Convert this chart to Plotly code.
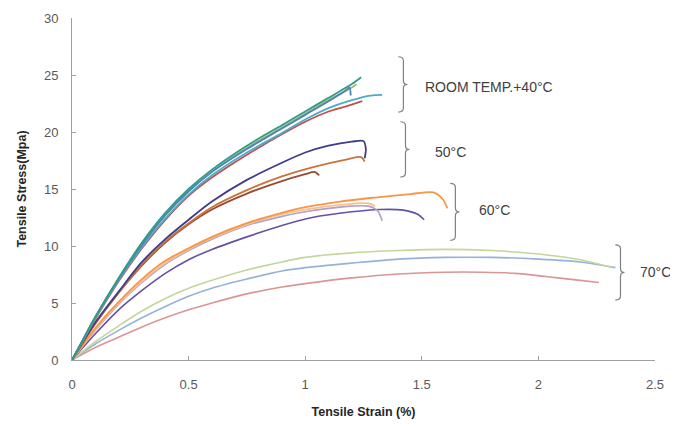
import plotly.graph_objects as go

# ---------------- data ----------------
# Room temp. + 40°C group
rt_teal_dark_x = [0, 0.05, 0.1, 0.2, 0.3, 0.4, 0.5, 0.6, 0.75, 0.9, 1.0, 1.1, 1.2, 1.24]
rt_teal_dark_y = [0, 1.9, 3.8, 7.2, 10.3, 12.9, 15.0, 16.7, 18.8, 20.6, 21.8, 23.0, 24.2, 24.8]
rt_green_x = [0, 0.05, 0.1, 0.2, 0.3, 0.4, 0.5, 0.6, 0.75, 0.9, 1.0, 1.1, 1.2, 1.22]
rt_green_y = [0, 1.85, 3.7, 7.1, 10.1, 12.7, 14.8, 16.5, 18.6, 20.4, 21.6, 22.8, 23.9, 24.2]
rt_blue_x = [0, 0.05, 0.1, 0.2, 0.3, 0.4, 0.5, 0.6, 0.75, 0.9, 1.0, 1.1, 1.17, 1.19, 1.195]
rt_blue_y = [0, 1.9, 3.75, 7.1, 10.1, 12.7, 14.8, 16.5, 18.5, 20.3, 21.5, 22.7, 23.6, 23.9, 23.2]
rt_cyan_x = [0, 0.05, 0.1, 0.2, 0.3, 0.4, 0.5, 0.6, 0.75, 0.9, 1.0, 1.1, 1.2, 1.28, 1.33]
rt_cyan_y = [0, 1.85, 3.7, 7.0, 9.9, 12.4, 14.5, 16.2, 18.2, 19.9, 21.1, 22.1, 22.8, 23.2, 23.25]
rt_red_x = [0, 0.05, 0.1, 0.2, 0.3, 0.4, 0.5, 0.6, 0.75, 0.9, 1.0, 1.1, 1.2, 1.245]
rt_red_y = [0, 1.8, 3.6, 6.9, 9.8, 12.3, 14.4, 16.0, 18.0, 19.8, 20.9, 21.8, 22.4, 22.7]

# 50°C group
c50_navy_x = [0, 0.05, 0.1, 0.2, 0.3, 0.4, 0.5, 0.6, 0.75, 0.9, 1.0, 1.1, 1.2, 1.25, 1.26, 1.255]
c50_navy_y = [0, 1.7, 3.3, 6.0, 8.6, 10.6, 12.3, 13.9, 15.8, 17.3, 18.2, 18.8, 19.15, 19.2, 18.5, 17.7]
c50_brown_x = [0, 0.05, 0.1, 0.2, 0.3, 0.4, 0.5, 0.6, 0.75, 0.9, 1.03, 1.18, 1.24, 1.255]
c50_brown_y = [0, 1.65, 3.2, 5.9, 8.4, 10.4, 12.0, 13.4, 14.9, 16.1, 16.9, 17.6, 17.8, 17.4]
c50_dark_x = [0, 0.05, 0.1, 0.2, 0.3, 0.4, 0.5, 0.6, 0.75, 0.9, 1.0, 1.04, 1.06]
c50_dark_y = [0, 1.65, 3.2, 5.9, 8.3, 10.3, 11.9, 13.2, 14.6, 15.7, 16.3, 16.5, 16.2]

# 60°C group
c60_orange_x = [0, 0.1, 0.2, 0.3, 0.4, 0.5, 0.6, 0.75, 0.9, 1.0, 1.15, 1.3, 1.45, 1.55, 1.59, 1.61]
c60_orange_y = [0, 2.8, 5.1, 7.1, 8.7, 9.8, 10.8, 12.0, 12.9, 13.4, 13.9, 14.25, 14.55, 14.7, 14.1, 13.3]
c60_peach_x = [0, 0.1, 0.2, 0.3, 0.4, 0.5, 0.6, 0.75, 0.9, 1.0, 1.15, 1.27, 1.3]
c60_peach_y = [0, 2.7, 5.0, 6.9, 8.5, 9.7, 10.7, 11.9, 12.8, 13.2, 13.6, 13.75, 13.5]
c60_lav_x = [0, 0.1, 0.2, 0.3, 0.4, 0.5, 0.6, 0.75, 0.9, 1.0, 1.1, 1.2, 1.27, 1.31, 1.33]
c60_lav_y = [0, 2.6, 4.9, 6.8, 8.4, 9.6, 10.6, 11.8, 12.6, 13.0, 13.3, 13.5, 13.5, 13.1, 12.2]
c60_purple_x = [0, 0.1, 0.2, 0.3, 0.4, 0.5, 0.6, 0.75, 0.9, 1.03, 1.2, 1.32, 1.42, 1.48, 1.51]
c60_purple_y = [0, 2.3, 4.4, 6.1, 7.6, 8.8, 9.7, 10.8, 11.8, 12.5, 13.0, 13.2, 13.15, 12.8, 12.3]

# 70°C group
c70_green_x = [0, 0.1, 0.2, 0.3, 0.4, 0.5, 0.6, 0.75, 0.9, 1.0, 1.2, 1.4, 1.6, 1.8, 2.0, 2.18, 2.32]
c70_green_y = [0, 1.6, 3.0, 4.3, 5.4, 6.3, 7.0, 7.9, 8.6, 9.0, 9.4, 9.6, 9.7, 9.6, 9.3, 8.8, 8.1]
c70_blue_x = [0, 0.1, 0.2, 0.3, 0.4, 0.5, 0.6, 0.75, 0.9, 1.0, 1.2, 1.4, 1.6, 1.8, 2.0, 2.18, 2.33]
c70_blue_y = [0, 1.4, 2.6, 3.7, 4.7, 5.6, 6.3, 7.1, 7.8, 8.1, 8.5, 8.85, 9.0, 9.0, 8.85, 8.6, 8.1]
c70_pink_x = [0, 0.1, 0.2, 0.3, 0.4, 0.5, 0.6, 0.75, 0.9, 1.0, 1.2, 1.4, 1.6, 1.76, 1.9, 2.04, 2.15, 2.26]
c70_pink_y = [0, 1.1, 2.0, 2.9, 3.7, 4.4, 5.0, 5.8, 6.4, 6.7, 7.2, 7.55, 7.7, 7.7, 7.6, 7.3, 7.05, 6.8]

x_ticks = [0, 0.5, 1, 1.5, 2, 2.5]
x_tick_labels = ["0", "0.5", "1", "1.5", "2", "2.5"]
y_ticks = [0, 5, 10, 15, 20, 25, 30]
y_tick_labels = ["0", "5", "10", "15", "20", "25", "30"]

group_labels = ["ROOM TEMP.+40°C", "50°C", "60°C", "70°C"]
# brace: x position, top stress, bottom stress ; label anchor x, y
brace_x = [1.399, 1.408, 1.622, 2.33]
brace_top = [26.6, 20.9, 15.5, 10.1]
brace_bot = [21.75, 16.05, 10.5, 5.26]
label_x = [1.506, 1.549, 1.738, 2.425]
label_y = [23.95, 18.25, 13.16, 7.72]

# ---------------- figure ----------------
series = [
    (c70_pink_x, c70_pink_y, "#DA9694", 1.6),
    (c70_blue_x, c70_blue_y, "#95B3D7", 1.6),
    (c70_green_x, c70_green_y, "#C3D69B", 1.6),
    (c60_purple_x, c60_purple_y, "#6650A6", 1.6),
    (c60_lav_x, c60_lav_y, "#B1A0C7", 1.6),
    (c60_peach_x, c60_peach_y, "#FAC090", 1.8),
    (c60_orange_x, c60_orange_y, "#F79646", 1.8),
    (c50_dark_x, c50_dark_y, "#9A4A30", 1.8),
    (c50_brown_x, c50_brown_y, "#C8743A", 1.8),
    (c50_navy_x, c50_navy_y, "#3F3C8C", 1.8),
    (rt_red_x, rt_red_y, "#C0504D", 1.8),
    (rt_cyan_x, rt_cyan_y, "#4BACC6", 1.8),
    (rt_green_x, rt_green_y, "#9BBB59", 1.8),
    (rt_blue_x, rt_blue_y, "#4F81BD", 1.8),
    (rt_teal_dark_x, rt_teal_dark_y, "#2E9C8C", 1.8),
]

fig = go.Figure()
for xs, ys, col, w in series:
    fig.add_trace(go.Scatter(
        x=xs, y=ys, mode="lines",
        line=dict(color=col, width=w, shape="spline", smoothing=0.8),
        showlegend=False, hoverinfo="skip",
    ))


def brace_path(x0, yt, yb, w=0.022, tip=0.017, r=0.35):
    ym = (yt + yb) / 2.0
    xw = x0 + w
    return (
        f"M {x0},{yt} Q {xw},{yt} {xw},{yt - r} "
        f"L {xw},{ym + r} Q {xw},{ym} {xw + tip},{ym} "
        f"Q {xw},{ym} {xw},{ym - r} "
        f"L {xw},{yb + r} Q {xw},{yb} {x0},{yb}"
    )


shapes = []
annotations = []
for bx, bt, bb, lx, ly, txt in zip(brace_x, brace_top, brace_bot, label_x, label_y, group_labels):
    shapes.append(dict(type="path", xref="x", yref="y", path=brace_path(bx, bt, bb),
                       line=dict(color="#808080", width=1.2)))
    annotations.append(dict(x=lx, y=ly, xref="x", yref="y", text=txt, showarrow=False,
                            xanchor="left", yanchor="middle",
                            font=dict(family="Liberation Sans, Arial, sans-serif", size=14, color="#404040")))

# page body has an 8px default margin, so the figure is sized/margined to compensate
fig.update_layout(
    width=670, height=420,
    margin=dict(l=64, r=23, t=10, b=68),
    paper_bgcolor="white", plot_bgcolor="white",
    font=dict(family="Liberation Sans, Arial, sans-serif", color="#595959"),
    shapes=shapes, annotations=annotations,
    xaxis=dict(
        range=[0, 2.5], tickvals=x_ticks, ticktext=x_tick_labels, automargin=False,
        showgrid=False, zeroline=False, showline=True, linecolor="#A0A0A0", linewidth=1,
        ticks="inside", ticklen=4, tickcolor="#A0A0A0",
        tickfont=dict(size=13, color="#595959"), ticklabelstandoff=12,
        title=dict(text="<b>Tensile Strain (%)</b>", standoff=16,
                   font=dict(size=12.5, color="#262626")),
    ),
    yaxis=dict(
        range=[0, 30], tickvals=y_ticks, ticktext=y_tick_labels, automargin=False,
        showgrid=False, zeroline=False, showline=True, linecolor="#A0A0A0", linewidth=1,
        ticks="inside", ticklen=4, tickcolor="#A0A0A0",
        tickfont=dict(size=13, color="#595959"), ticklabelstandoff=10,
        title=dict(text="<b>Tensile Stress(Mpa)</b>", standoff=14,
                   font=dict(size=12.5, color="#262626")),
    ),
)

fig.write_html("out.html")
